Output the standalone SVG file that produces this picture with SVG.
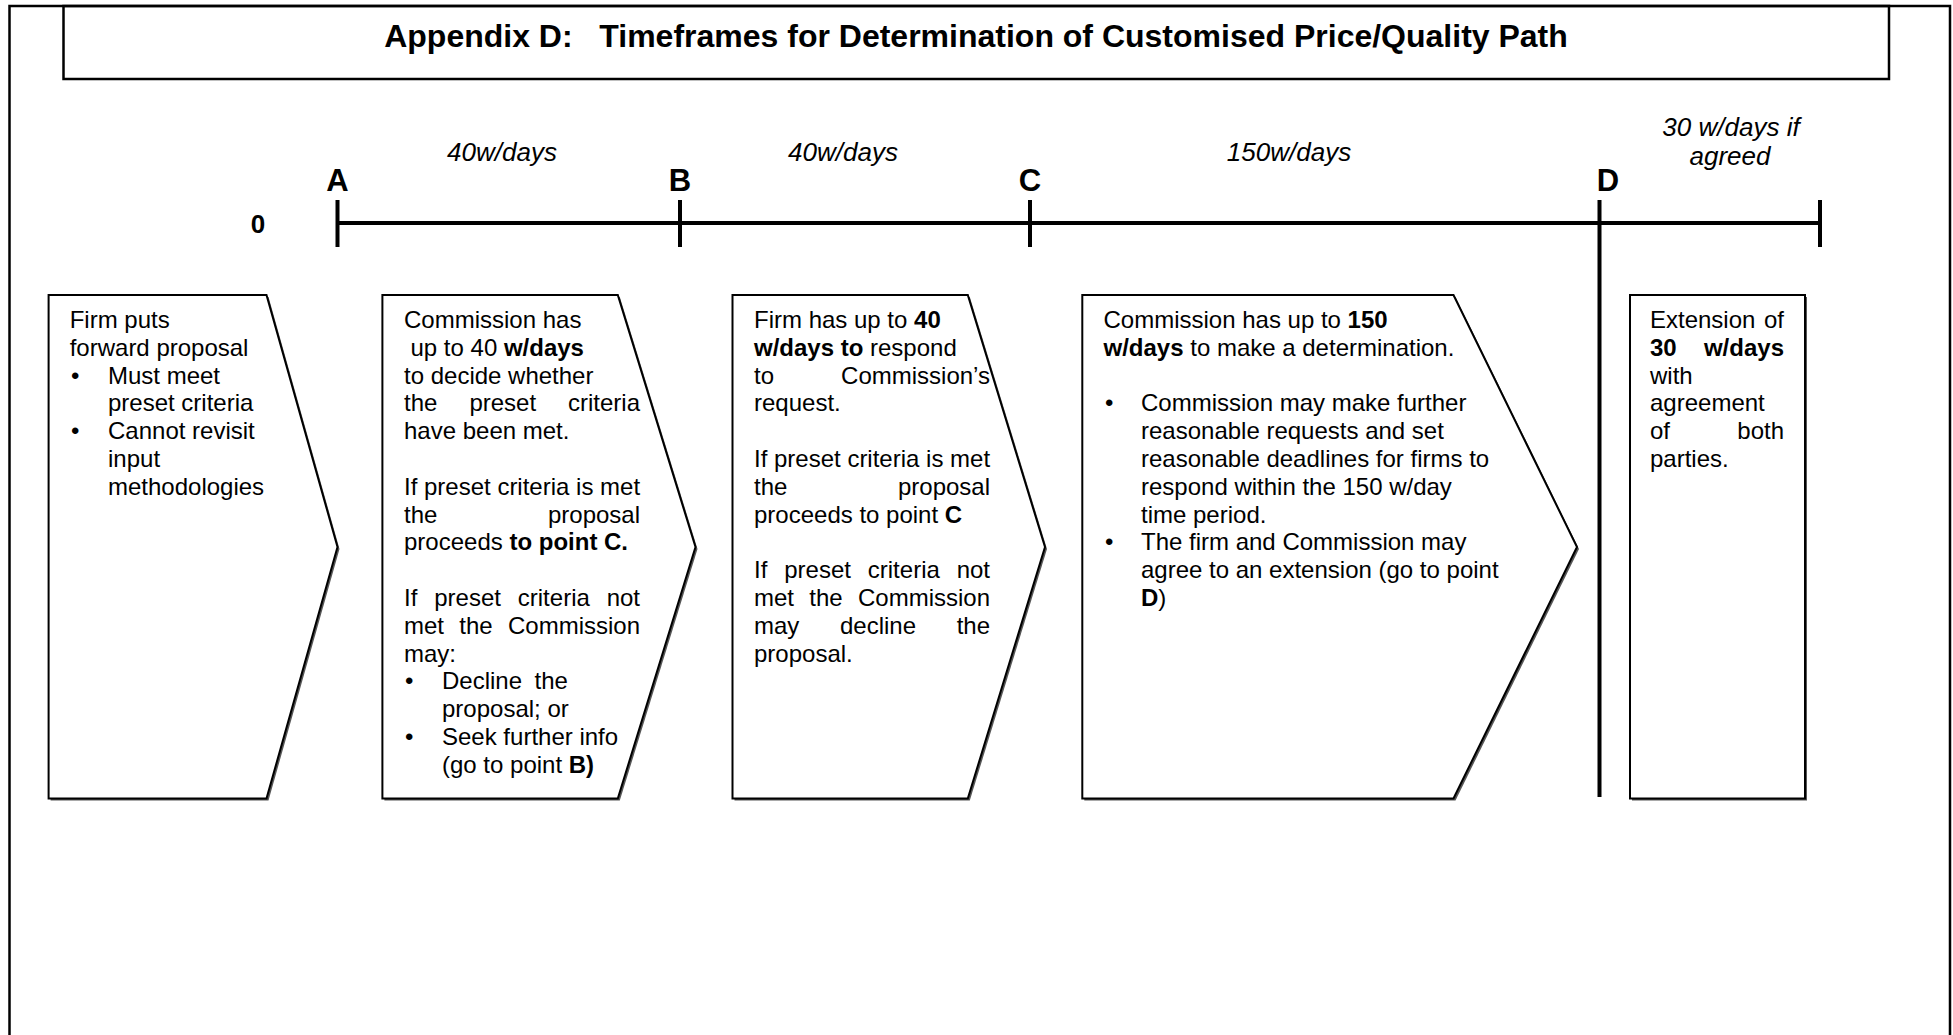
<svg xmlns="http://www.w3.org/2000/svg" width="1953" height="1035" viewBox="0 0 1953 1035">
  <style>
    text { font-family: "Liberation Sans", Arial, sans-serif; fill: #000; }
    .title { font-size: 32px; font-weight: bold; text-anchor: middle; white-space: pre; }
    .body { font-size: 24px; }
    .b { font-weight: bold; }
    .end { text-anchor: end; }
    .mid { text-anchor: middle; }
    .period { font-size: 26px; font-style: italic; text-anchor: middle; }
    .point { font-size: 31px; font-weight: bold; text-anchor: middle; }
    .frame { fill: none; stroke: #000; stroke-width: 2.5; }
    .shape { fill: #fff; stroke: #000; stroke-width: 2; stroke-linejoin: miter; }
    .shadow { fill: #555; }
    .axis { fill: none; stroke: #000; stroke-width: 4; }
  </style>

  <rect x="0" y="0" width="1953" height="1035" fill="#fff"/>

  <!-- page frame and heading -->
  <path class="frame" d="M9.5 1035 V6 H1950 V1035"/>
  <g id="heading">
    <rect class="frame" x="63.5" y="6" width="1825.5" height="73"/>
    <text class="title" x="976" y="47">Appendix D:   Timeframes for Determination of Customised Price/Quality Path</text>
  </g>

  <!-- timeline with milestone ticks -->
  <g id="timeline">
    <line class="axis" x1="337.5" y1="223" x2="1820" y2="223"/>
    <line class="axis" x1="337.5" y1="200" x2="337.5" y2="247"/>
    <line class="axis" x1="680" y1="200" x2="680" y2="247"/>
    <line class="axis" x1="1030" y1="200" x2="1030" y2="247"/>
    <line class="axis" x1="1599.5" y1="200" x2="1599.5" y2="797"/>
    <line class="axis" x1="1820" y1="200" x2="1820" y2="247"/>
  </g>

  <g id="timeline-labels">
    <text class="point" x="258" y="233" style="font-size:26px">0</text>
    <text class="point" x="337.5" y="191">A</text>
    <text class="point" x="680" y="191">B</text>
    <text class="point" x="1030" y="191">C</text>
    <text class="point" x="1608" y="191">D</text>
    <text class="period" x="502" y="161">40w/days</text>
    <text class="period" x="843" y="161">40w/days</text>
    <text class="period" x="1289" y="161">150w/days</text>
    <text class="period" x="1731" y="136">30 w/days if</text>
    <text class="period" x="1730" y="165">agreed</text>
  </g>

  <!-- stage 0: proposal -->
  <g id="stage-proposal">
    <polygon class="shadow" points="50.6,297 268.5,297 339.5,549 268.5,800.5 50.6,800.5"/>
    <polygon class="shape" points="48.6,295 266.5,295 337.5,547 266.5,798.5 48.6,798.5"/>
    <g class="body">
      <text x="69.7" y="328">Firm puts</text>
      <text x="69.7" y="355.8">forward proposal</text>
      <text x="71" y="383.6">•</text>
      <text x="108" y="383.6">Must meet</text>
      <text x="108" y="411.4">preset criteria</text>
      <text x="71" y="439.2">•</text>
      <text x="108" y="439.2">Cannot revisit</text>
      <text x="108" y="467">input</text>
      <text x="108" y="494.8">methodologies</text>
    </g>
  </g>

  <!-- stage A to B: criteria check -->
  <g id="stage-criteria">
    <polygon class="shadow" points="384.4,297 619.8,297 697.5,549 619.8,800.5 384.4,800.5"/>
    <polygon class="shape" points="382.4,295 617.8,295 695.5,547 617.8,798.5 382.4,798.5"/>
    <g class="body">
      <text x="404" y="328">Commission has</text>
      <text x="410.5" y="355.8">up to 40 <tspan class="b">w/days</tspan></text>
      <text x="404" y="383.6">to decide whether</text>
      <text x="404" y="411.4">the</text>
      <text x="469.4" y="411.4">preset</text>
      <text class="end" x="640" y="411.4">criteria</text>
      <text x="404" y="439.2">have been met.</text>
      <text x="404" y="494.8">If preset criteria is met</text>
      <text x="404" y="522.6">the</text>
      <text class="end" x="640" y="522.6">proposal</text>
      <text x="404" y="550.4">proceeds <tspan class="b">to point C.</tspan></text>
      <text x="404" y="606">If</text>
      <text x="434.2" y="606">preset</text>
      <text x="517.8" y="606">criteria</text>
      <text class="end" x="640" y="606">not</text>
      <text x="404" y="633.8">met</text>
      <text x="459.3" y="633.8">the</text>
      <text class="end" x="640" y="633.8">Commission</text>
      <text x="404" y="661.6">may:</text>
      <text x="405" y="689.4">•</text>
      <text x="442" y="689.4">Decline</text>
      <text x="534.6" y="689.4">the</text>
      <text x="442" y="717.2">proposal; or</text>
      <text x="405" y="745">•</text>
      <text x="442" y="745">Seek further info</text>
      <text x="442" y="772.8">(go to point <tspan class="b">B)</tspan></text>
    </g>
  </g>

  <!-- stage B to C: firm response -->
  <g id="stage-response">
    <polygon class="shadow" points="734.5,297 969.8,297 1047,549 969.8,800.5 734.5,800.5"/>
    <polygon class="shape" points="732.5,295 967.8,295 1045,547 967.8,798.5 732.5,798.5"/>
    <g class="body">
      <text x="754" y="328">Firm has up to <tspan class="b">40</tspan></text>
      <text x="754" y="355.8"><tspan class="b">w/days to</tspan> respond</text>
      <text x="754" y="383.6">to</text>
      <text class="end" x="990" y="383.6">Commission’s</text>
      <text x="754" y="411.4">request.</text>
      <text x="754" y="467">If preset criteria is met</text>
      <text x="754" y="494.8">the</text>
      <text class="end" x="990" y="494.8">proposal</text>
      <text x="754" y="522.6">proceeds to point <tspan class="b">C</tspan></text>
      <text x="754" y="578.2">If</text>
      <text x="784.2" y="578.2">preset</text>
      <text x="867.8" y="578.2">criteria</text>
      <text class="end" x="990" y="578.2">not</text>
      <text x="754" y="606">met</text>
      <text x="809.3" y="606">the</text>
      <text class="end" x="990" y="606">Commission</text>
      <text x="754" y="633.8">may</text>
      <text x="840" y="633.8">decline</text>
      <text class="end" x="990" y="633.8">the</text>
      <text x="754" y="661.6">proposal.</text>
    </g>
  </g>

  <!-- stage C to D: determination -->
  <g id="stage-determination">
    <polygon class="shadow" points="1084.3,297 1455.5,297 1579,549 1455.5,800.5 1084.3,800.5"/>
    <polygon class="shape" points="1082.3,295 1453.5,295 1577,547 1453.5,798.5 1082.3,798.5"/>
    <g class="body">
      <text x="1103.5" y="328">Commission has up to <tspan class="b">150</tspan></text>
      <text x="1103.5" y="355.8"><tspan class="b">w/days</tspan> to make a determination.</text>
      <text x="1105" y="411.4">•</text>
      <text x="1141" y="411.4">Commission may make further</text>
      <text x="1141" y="439.2">reasonable requests and set</text>
      <text x="1141" y="467">reasonable deadlines for firms to</text>
      <text x="1141" y="494.8">respond within the 150 w/day</text>
      <text x="1141" y="522.6">time period.</text>
      <text x="1105" y="550.4">•</text>
      <text x="1141" y="550.4">The firm and Commission may</text>
      <text x="1141" y="578.2">agree to an extension (go to point</text>
      <text x="1141" y="606"><tspan class="b">D</tspan>)</text>
    </g>
  </g>

  <!-- optional extension after D -->
  <g id="stage-extension">
    <rect class="shadow" x="1632" y="297" width="175" height="503.5"/>
    <rect class="shape" x="1630" y="295" width="175" height="503.5"/>
    <g class="body">
      <text x="1650" y="328">Extension</text>
      <text class="end" x="1784" y="328">of</text>
      <text class="b" x="1650" y="355.8">30</text>
      <text class="b end" x="1784" y="355.8">w/days</text>
      <text x="1650" y="383.6">with</text>
      <text x="1650" y="411.4">agreement</text>
      <text x="1650" y="439.2">of</text>
      <text class="end" x="1784" y="439.2">both</text>
      <text x="1650" y="467">parties.</text>
    </g>
  </g>
</svg>
